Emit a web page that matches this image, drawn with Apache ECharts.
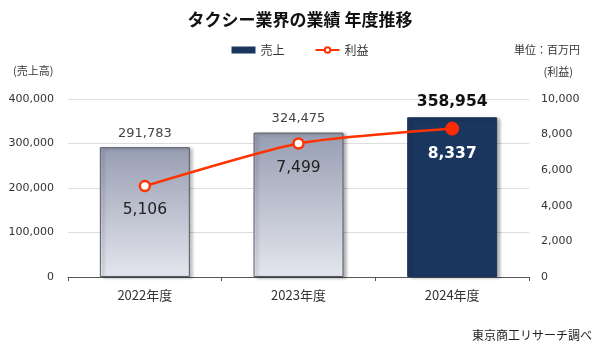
<!DOCTYPE html>
<html><head><meta charset="utf-8">
<script src="https://cdn.jsdelivr.net/npm/echarts@6/dist/echarts.min.js"></script>
<style>html,body{margin:0;padding:0;background:#fff}#c{width:600px;height:353px}</style>
</head><body><div id="c"></div>
<script>
const categories = ['2022年度', '2023年度', '2024年度'];
const sales = [291783, 324475, 358954];
const profit = [5106, 7499, 8337];
const leftTicks = [0, 100000, 200000, 300000, 400000];
const rightTicks = [0, 2000, 4000, 6000, 8000, 10000];

const JP = '"Noto Sans CJK JP", sans-serif';
const NUM = '"DejaVu Sans", sans-serif';
const fmt = v => v.toLocaleString('en-US');

const grayGrad = new echarts.graphic.LinearGradient(0, 0, 0, 1, [
  {offset: 0, color: '#979db2'}, {offset: 1, color: '#e4e6ee'}
]);

const chart = echarts.init(document.getElementById('c'));
chart.setOption({
  animation: false,
  title: {
    text: 'タクシー業界の業績 年度推移', left: 'center', top: 6,
    textStyle: {fontFamily: JP, fontSize: 17, fontWeight: 'bold', color: '#111'}
  },
  legend: {
    top: 39, left: 'center', itemGap: 30, itemWidth: 24, itemHeight: 7,
    textStyle: {fontFamily: JP, fontSize: 12, color: '#333'},
    data: [
      {name: '売上', icon: 'rect', itemStyle: {color: '#1a365f'}},
      {name: '利益', itemStyle: {color: '#ffffff', borderColor: '#ff3300', borderWidth: 2}}
    ]
  },
  grid: {left: 68, right: 71, top: 99, bottom: 76},
  xAxis: {
    type: 'category', data: categories,
    axisLine: {lineStyle: {color: '#555'}},
    axisTick: {show: true, length: 4, lineStyle: {color: '#555'}},
    axisLabel: {fontFamily: JP, fontSize: 13, color: '#333', margin: 12}
  },
  yAxis: [
    {
      type: 'value', min: leftTicks[0], max: leftTicks[leftTicks.length - 1], interval: 100000,
      axisLine: {show: false}, axisTick: {show: false},
      axisLabel: {fontFamily: NUM, fontSize: 11, color: '#333', margin: 14, formatter: v => fmt(v)},
      splitLine: {lineStyle: {color: '#dddddd'}}
    },
    {
      type: 'value', min: rightTicks[0], max: rightTicks[rightTicks.length - 1], interval: 2000,
      axisLine: {show: false}, axisTick: {show: false},
      axisLabel: {fontFamily: NUM, fontSize: 11, color: '#333', margin: 12, formatter: v => fmt(v)},
      splitLine: {show: false}
    }
  ],
  graphic: [
    {type: 'text', left: 13, top: 65, style: {text: '(売上高)', font: '11px ' + JP, fill: '#333'}},
    {type: 'text', right: 27, top: 66, style: {text: '(利益)', font: '11px ' + JP, fill: '#333'}},
    {type: 'text', right: 20, top: 44, style: {text: '単位：百万円', font: '11px ' + JP, fill: '#333'}},
    {type: 'text', right: 8, top: 329, style: {text: '東京商工リサーチ調べ', font: '12px ' + JP, fill: '#222'}}
  ],
  series: [
    {
      name: '売上', type: 'bar', yAxisIndex: 0, barWidth: 90,
      data: sales.map((v, i) => {
        const last = i === sales.length - 1;
        return {
          value: v,
          itemStyle: last ? {color: '#1a365f', borderColor: '#1a365f', borderWidth: 1,
                              shadowColor: 'rgba(0,0,0,0.3)', shadowOffsetX: 3, shadowOffsetY: 1, shadowBlur: 3}
                          : {color: grayGrad, borderColor: '#555b66', borderWidth: 1,
                              shadowColor: 'rgba(0,0,0,0.3)', shadowOffsetX: 3, shadowOffsetY: 1, shadowBlur: 3},
          label: last ? {fontSize: 15.5, fontWeight: 'bold', color: '#111', distance: 7}
                      : {fontSize: 13, color: '#444', distance: 7}
        };
      }),
      label: {show: true, position: 'top', fontFamily: NUM, formatter: p => fmt(p.value)}
    },
    {
      name: '利益', type: 'line', yAxisIndex: 1, smooth: 0.2,
      lineStyle: {color: '#ff3300', width: 2.5},
      itemStyle: {color: '#ff3300'},
      symbol: 'circle', symbolSize: 10,
      data: profit.map((v, i) => {
        const last = i === profit.length - 1;
        return {
          value: v,
          symbolSize: last ? 13 : 10,
          itemStyle: last ? {color: '#ff2a00', borderColor: '#ff2a00', borderWidth: 1}
                          : {color: '#ffffff', borderColor: '#ff3300', borderWidth: 2.5},
          label: last ? {color: '#ffffff', fontWeight: 'bold', fontSize: 15.5}
                      : {color: '#222', fontSize: 15.5}
        };
      }),
      label: {show: true, position: 'bottom', distance: 10, fontFamily: NUM, formatter: p => fmt(p.value)}
    }
  ]
});
</script></body></html>
